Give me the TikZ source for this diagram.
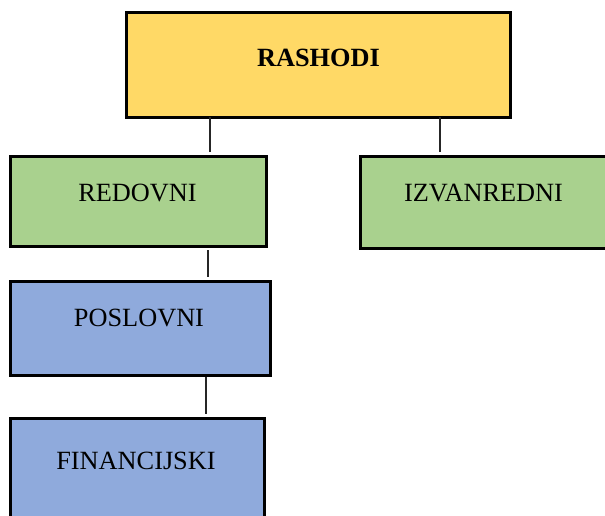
\documentclass[tikz,border=0pt]{standalone}
\usepackage{fontspec}
\setmainfont{Liberation Serif}
\definecolor{ryellow}{HTML}{FFD966}
\definecolor{rgreen}{HTML}{A9D18E}
\definecolor{rblue}{HTML}{8FAADC}
\tikzset{
  boxshape/.style={draw=black, line width=3pt, inner sep=0pt, outer sep=0pt, rectangle},
  lbl/.style={font=\fontsize{26.3}{30}\selectfont, inner sep=0pt, anchor=base},
  conn/.style={draw=black!85, line width=1.2pt}
}
\begin{document}
\begin{tikzpicture}[x=1pt,y=-1pt]
\useasboundingbox (0,0) rectangle (605,515);
% boxes
\node[boxshape, fill=ryellow, minimum width=384pt, minimum height=105pt] (rashodi) at (318,65) {};
\node[boxshape, fill=rgreen, minimum width=256pt, minimum height=90pt] (redovni) at (138,201) {};
\node[boxshape, fill=rgreen, minimum width=260pt, minimum height=92pt] (izvanredni) at (490,202) {};
\node[boxshape, fill=rblue, minimum width=260pt, minimum height=94pt] (poslovni) at (140,328) {};
\node[boxshape, fill=rblue, minimum width=254pt, minimum height=112pt] (financijski) at (137,474) {};
% labels
\node[lbl, font=\fontsize{26.3}{30}\selectfont\bfseries] (trashodi) at (318.5,66) {RASHODI};
\node[lbl] (tredovni) at (137.5,201.5) {REDOVNI};
\node[lbl] (tizvanredni) at (483.5,201.7) {IZVANREDNI};
\node[lbl] (tposlovni) at (139,326.7) {POSLOVNI};
\node[lbl] (tfinancijski) at (136,469) {FINANCIJSKI};
% connectors
\draw[conn] ([yshift=1pt]rashodi.south -| 210,0) -- ([yshift=4pt]redovni.north -| 210,0);
\draw[conn] ([yshift=1pt]rashodi.south -| 440,0) -- ([yshift=4pt]izvanredni.north -| 440,0);
\draw[conn] ([yshift=-4pt]redovni.south -| 208,0) -- ([yshift=4pt]poslovni.north -| 208,0);
\draw[conn] ([yshift=-2pt]poslovni.south -| 206,0) -- ([yshift=4pt]financijski.north -| 206,0);
\end{tikzpicture}
\end{document}
